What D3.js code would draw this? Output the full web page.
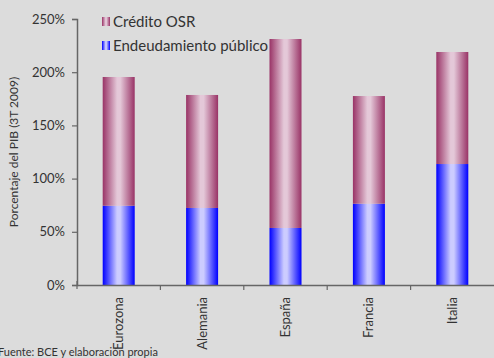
<!DOCTYPE html>
<html><head><meta charset="utf-8">
<script src="https://cdn.jsdelivr.net/npm/d3@7"></script>
<style>body{margin:0;background:#dcdcdc;} svg{display:block;}</style>
</head><body>
<script>
const categories = ["Eurozona","Alemania","España","Francia","Italia"];
const endeudamiento = [74.5, 72.4, 53.6, 76.4, 113.7];
const credito = [121.0, 106.2, 177.6, 101.2, 105.3];
const yTicks = [0,50,100,150,200,250];
const seriesNames = ["Crédito OSR","Endeudamiento público"];

const W=494,H=358;
const svg=d3.select("body").append("svg").attr("width",W).attr("height",H);
svg.append("rect").attr("width",W).attr("height",H).attr("fill","#dcdcdc");
const font="Lato, 'Open Sans', sans-serif";
const m={left:77,right:0,top:19,bottom:73};
const x=d3.scaleBand().domain(categories).range([m.left,W-m.right]).paddingInner(0).paddingOuter(0);
const y=d3.scaleLinear().domain([0,250]).range([H-m.bottom,m.top]);

const defs=svg.append("defs");
function grad(id,edge,mid){
  const g=defs.append("linearGradient").attr("id",id).attr("x1","0%").attr("x2","100%").attr("y1","0%").attr("y2","0%");
  g.append("stop").attr("offset","0%").attr("stop-color",edge);
  g.append("stop").attr("offset","45%").attr("stop-color",mid);
  g.append("stop").attr("offset","55%").attr("stop-color",mid);
  g.append("stop").attr("offset","100%").attr("stop-color",edge);
}
grad("gRed","#993366","#e4c8d8");
grad("gBlue","#0000ff","#ccccff");

const bw=32;
const data=categories.map((c,i)=>({c,b:endeudamiento[i],r:credito[i]}));
const g=svg.append("g");
data.forEach(d=>{
  const cx=x(d.c)+x.bandwidth()/2;
  g.append("rect").attr("x",cx-bw/2).attr("width",bw).attr("y",y(d.b)).attr("height",y(0)-y(d.b)).attr("fill","url(#gBlue)");
  g.append("rect").attr("x",cx-bw/2).attr("width",bw).attr("y",y(d.b+d.r)).attr("height",y(d.b)-y(d.b+d.r)).attr("fill","url(#gRed)");
});

// y axis
const ya=svg.append("g").attr("transform",`translate(${m.left},0)`)
  .call(d3.axisLeft(y).tickValues(yTicks).tickFormat(d=>d+"%").tickSize(5).tickPadding(7));
ya.select(".domain").attr("stroke","#666").attr("stroke-width",1.5);
ya.selectAll(".tick line").attr("stroke","#666").attr("stroke-width",1.2);
ya.selectAll("text").attr("font-family",font).attr("font-size",13).attr("fill","#333");

// x axis
const xa=svg.append("g").attr("transform",`translate(0,${y(0)})`)
  .call(d3.axisBottom(x).tickSize(0).tickFormat(""));
xa.select(".domain").attr("stroke","#666").attr("stroke-width",1.5);
categories.slice(0,-1).forEach((c)=>{
  xa.append("line").attr("x1",x(c)+x.bandwidth()).attr("x2",x(c)+x.bandwidth()).attr("y1",0).attr("y2",5).attr("stroke","#666").attr("stroke-width",1.2);
});
xa.append("line").attr("x1",m.left).attr("x2",m.left).attr("y1",-4).attr("y2",4).attr("stroke","#666").attr("stroke-width",1.2);
categories.forEach(c=>{
  const cx=x(c)+x.bandwidth()/2;
  svg.append("text").attr("transform",`translate(${cx+4.5},${y(0)+12}) rotate(-90)`)
    .attr("text-anchor","end").attr("font-family",font).attr("font-size",13).attr("fill","#333").text(c);
});

// y title
svg.append("text").attr("transform",`translate(18,152) rotate(-90)`).attr("text-anchor","middle")
  .attr("font-family",font).attr("font-size",12).attr("fill","#333").text("Porcentaje del PIB (3T 2009)");

// legend
const lg=[["gRed",seriesNames[0],17],["gBlue",seriesNames[1],41]];
lg.forEach(([gid,name,yy])=>{
  svg.append("rect").attr("x",102).attr("y",yy).attr("width",8).attr("height",9).attr("fill",`url(#${gid})`);
  svg.append("text").attr("x",113).attr("y",yy+10).attr("font-family",font).attr("font-size",15).attr("fill","#333").text(name);
});

// source
svg.append("text").attr("x",-2).attr("y",356).attr("font-family",font).attr("font-size",11).attr("fill","#333").text("Fuente: BCE y elaboración propia");
</script>
</body></html>
